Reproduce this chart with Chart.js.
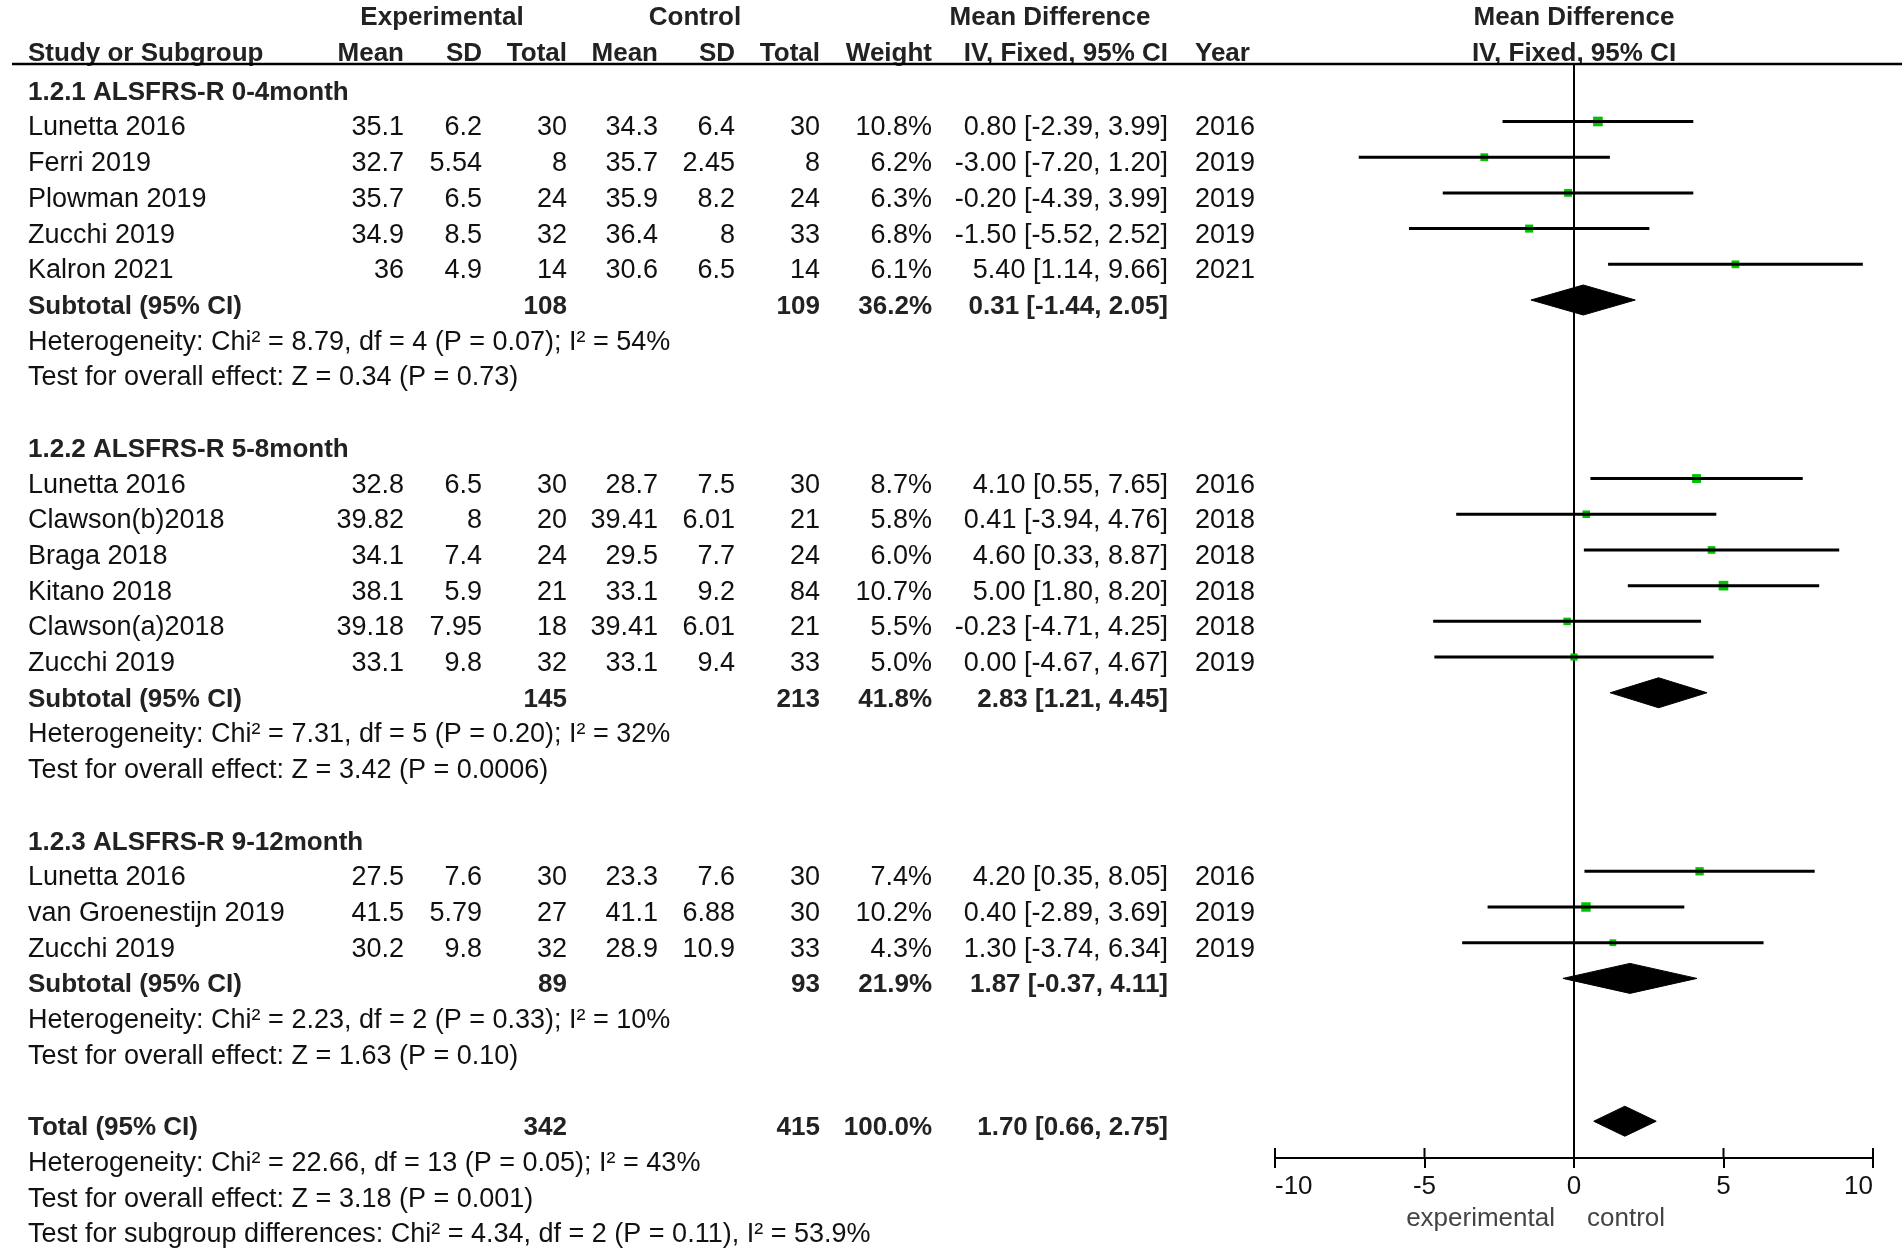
<!DOCTYPE html>
<html>
<head>
<meta charset="utf-8">
<title>Forest plot - ALSFRS-R</title>
<script src="https://cdn.jsdelivr.net/npm/chart.js@4.4.1/dist/chart.umd.min.js"></script>
<style>
  html, body { margin: 0; padding: 0; background: #fff; }
  canvas { display: block; }
</style>
</head>
<body>
<canvas id="forest" width="1902" height="1253"></canvas>
<script>
// ---- study data ----
const studyNames = ['Lunetta 2016', 'Ferri 2019', 'Plowman 2019', 'Zucchi 2019', 'Kalron 2021',
  'Lunetta 2016', 'Clawson(b)2018', 'Braga 2018', 'Kitano 2018', 'Clawson(a)2018', 'Zucchi 2019',
  'Lunetta 2016', 'van Groenestijn 2019', 'Zucchi 2019'];
const studyGroup = [0, 0, 0, 0, 0, 1, 1, 1, 1, 1, 1, 2, 2, 2];
const expMean = [35.1, 32.7, 35.7, 34.9, 36, 32.8, 39.82, 34.1, 38.1, 39.18, 33.1, 27.5, 41.5, 30.2];
const expSD = [6.2, 5.54, 6.5, 8.5, 4.9, 6.5, 8, 7.4, 5.9, 7.95, 9.8, 7.6, 5.79, 9.8];
const expTotal = [30, 8, 24, 32, 14, 30, 20, 24, 21, 18, 32, 30, 27, 32];
const ctlMean = [34.3, 35.7, 35.9, 36.4, 30.6, 28.7, 39.41, 29.5, 33.1, 39.41, 33.1, 23.3, 41.1, 28.9];
const ctlSD = [6.4, 2.45, 8.2, 8, 6.5, 7.5, 6.01, 7.7, 9.2, 6.01, 9.4, 7.6, 6.88, 10.9];
const ctlTotal = [30, 8, 24, 33, 14, 30, 21, 24, 84, 21, 33, 30, 30, 33];
const weight = [10.8, 6.2, 6.3, 6.8, 6.1, 8.7, 5.8, 6.0, 10.7, 5.5, 5.0, 7.4, 10.2, 4.3];
const md = [0.80, -3.00, -0.20, -1.50, 5.40, 4.10, 0.41, 4.60, 5.00, -0.23, 0.00, 4.20, 0.40, 1.30];
const ciLow = [-2.39, -7.20, -4.39, -5.52, 1.14, 0.55, -3.94, 0.33, 1.80, -4.71, -4.67, 0.35, -2.89, -3.74];
const ciHigh = [3.99, 1.20, 3.99, 2.52, 9.66, 7.65, 4.76, 8.87, 8.20, 4.25, 4.67, 8.05, 3.69, 6.34];
const studyYear = [2016, 2019, 2019, 2019, 2021, 2016, 2018, 2018, 2018, 2018, 2019, 2016, 2019, 2019];

// ---- subgroup data ----
const groupNames = ['1.2.1 ALSFRS-R 0-4month', '1.2.2 ALSFRS-R 5-8month', '1.2.3 ALSFRS-R 9-12month'];
const groupExpTotal = [108, 145, 89];
const groupCtlTotal = [109, 213, 93];
const groupWeight = [36.2, 41.8, 21.9];
const groupMd = [0.31, 2.83, 1.87];
const groupLow = [-1.44, 1.21, -0.37];
const groupHigh = [2.05, 4.45, 4.11];
const groupHet = ['Heterogeneity: Chi² = 8.79, df = 4 (P = 0.07); I² = 54%',
  'Heterogeneity: Chi² = 7.31, df = 5 (P = 0.20); I² = 32%',
  'Heterogeneity: Chi² = 2.23, df = 2 (P = 0.33); I² = 10%'];
const groupTest = ['Test for overall effect: Z = 0.34 (P = 0.73)',
  'Test for overall effect: Z = 3.42 (P = 0.0006)',
  'Test for overall effect: Z = 1.63 (P = 0.10)'];

// ---- overall ----
const totalExpTotal = 342;
const totalCtlTotal = 415;
const totalWeight = 100.0;
const totalMd = 1.70;
const totalLow = 0.66;
const totalHigh = 2.75;
const totalNotes = ['Heterogeneity: Chi² = 22.66, df = 13 (P = 0.05); I² = 43%',
  'Test for overall effect: Z = 3.18 (P = 0.001)',
  'Test for subgroup differences: Chi² = 4.34, df = 2 (P = 0.11), I² = 53.9%'];

// ---- axis ----
const xTicks = [-10, -5, 0, 5, 10];
const favourLabels = ['experimental', 'control'];

// ---- build the row layout (one row = one line of the table) ----
const rows = [];
groupNames.forEach((g, gi) => {
  rows.push({ kind: 'group', g: gi });
  studyNames.forEach((s, i) => { if (studyGroup[i] === gi) rows.push({ kind: 'study', i: i }); });
  rows.push({ kind: 'sub', g: gi });
  rows.push({ kind: 'note', text: groupHet[gi] });
  rows.push({ kind: 'note', text: groupTest[gi] });
  rows.push({ kind: 'blank' });
});
rows.push({ kind: 'total' });
totalNotes.forEach(t => rows.push({ kind: 'note', text: t }));

const rowOf = (kind, key) => rows.findIndex(r => r.kind === kind && (r.i === key || r.g === key || key === undefined));

const FONT = '"Liberation Sans", Arial, sans-serif';
const COL = { name: 28, expMean: 404, expSD: 482, expN: 567, ctlMean: 658, ctlSD: 735, ctlN: 820,
  weight: 932, ci: 1168, year: 1195 };
const DIAMOND_H = 0.42;

const ciText = (m, lo, hi) => m.toFixed(2) + ' [' + lo.toFixed(2) + ', ' + hi.toFixed(2) + ']';

// ---- datasets ----
const datasets = [];
// confidence interval whiskers
studyNames.forEach((s, i) => {
  const r = rowOf('study', i);
  datasets.push({
    data: [{ x: ciLow[i], y: r }, { x: ciHigh[i], y: r }],
    showLine: true, borderColor: '#000', borderWidth: 3, pointRadius: 0
  });
});
// study point estimates (square size follows weight)
datasets.push({
  data: studyNames.map((s, i) => ({ x: md[i], y: rowOf('study', i) })),
  pointStyle: 'rect',
  pointRadius: weight.map(w => (2.4 * Math.sqrt(w) + 1.8) / Math.SQRT2),
  backgroundColor: '#00c400', borderWidth: 0, showLine: false
});
// pooled diamonds
function diamond(m, lo, hi, r) {
  return {
    data: [{ x: lo, y: r }, { x: m, y: r - DIAMOND_H }, { x: hi, y: r }, { x: m, y: r + DIAMOND_H }, { x: lo, y: r }],
    showLine: true, fill: 'shape', backgroundColor: '#000', borderColor: '#000', borderWidth: 1,
    pointRadius: 0, tension: 0
  };
}
groupNames.forEach((g, gi) => datasets.push(diamond(groupMd[gi], groupLow[gi], groupHigh[gi], rowOf('sub', gi))));
datasets.push(diamond(totalMd, totalLow, totalHigh, rowOf('total')));

// ---- table text, header rule and extra axis marks ----
const tablePlugin = {
  id: 'forestTable',
  afterDraw(chart) {
    const ctx = chart.ctx;
    const ys = chart.scales.y;
    const xs = chart.scales.x;
    const base = r => ys.getPixelForValue(r) + 14;
    function txt(s, x, r, align, bold, color) {
      ctx.font = bold ? 'bold 26px ' + FONT : '27px ' + FONT;
      ctx.fillStyle = color || '#111';
      ctx.textAlign = align;
      ctx.fillText(s, x, base(r));
    }
    ctx.save();
    ctx.textBaseline = 'alphabetic';

    // column headers
    const h1 = -2.1, h2 = -1.1;
    txt('Experimental', 442, h1, 'center', true, '#222');
    txt('Control', 695, h1, 'center', true, '#222');
    txt('Mean Difference', 1050, h1, 'center', true, '#222');
    txt('Mean Difference', xs.getPixelForValue(0), h1, 'center', true, '#222');
    txt('Study or Subgroup', COL.name, h2, 'left', true, '#222');
    txt('Mean', COL.expMean, h2, 'right', true, '#222');
    txt('SD', COL.expSD, h2, 'right', true, '#222');
    txt('Total', COL.expN, h2, 'right', true, '#222');
    txt('Mean', COL.ctlMean, h2, 'right', true, '#222');
    txt('SD', COL.ctlSD, h2, 'right', true, '#222');
    txt('Total', COL.ctlN, h2, 'right', true, '#222');
    txt('Weight', COL.weight, h2, 'right', true, '#222');
    txt('IV, Fixed, 95% CI', COL.ci, h2, 'right', true, '#222');
    txt('Year', COL.year, h2, 'left', true, '#222');
    txt('IV, Fixed, 95% CI', xs.getPixelForValue(0), h2, 'center', true, '#222');

    // header rule
    ctx.strokeStyle = '#000';
    ctx.lineWidth = 2.5;
    ctx.beginPath();
    ctx.moveTo(12, chart.chartArea.top);
    ctx.lineTo(chart.width, chart.chartArea.top);
    ctx.stroke();

    rows.forEach((row, r) => {
      if (row.kind === 'group') {
        txt(groupNames[row.g], COL.name, r, 'left', true, '#222');
      } else if (row.kind === 'study') {
        const i = row.i;
        txt(studyNames[i], COL.name, r, 'left');
        txt(String(expMean[i]), COL.expMean, r, 'right');
        txt(String(expSD[i]), COL.expSD, r, 'right');
        txt(String(expTotal[i]), COL.expN, r, 'right');
        txt(String(ctlMean[i]), COL.ctlMean, r, 'right');
        txt(String(ctlSD[i]), COL.ctlSD, r, 'right');
        txt(String(ctlTotal[i]), COL.ctlN, r, 'right');
        txt(weight[i].toFixed(1) + '%', COL.weight, r, 'right');
        txt(ciText(md[i], ciLow[i], ciHigh[i]), COL.ci, r, 'right');
        txt(String(studyYear[i]), COL.year, r, 'left');
      } else if (row.kind === 'sub') {
        const g = row.g;
        txt('Subtotal (95% CI)', COL.name, r, 'left', true, '#222');
        txt(String(groupExpTotal[g]), COL.expN, r, 'right', true, '#222');
        txt(String(groupCtlTotal[g]), COL.ctlN, r, 'right', true, '#222');
        txt(groupWeight[g].toFixed(1) + '%', COL.weight, r, 'right', true, '#222');
        txt(ciText(groupMd[g], groupLow[g], groupHigh[g]), COL.ci, r, 'right', true, '#222');
      } else if (row.kind === 'total') {
        txt('Total (95% CI)', COL.name, r, 'left', true, '#222');
        txt(String(totalExpTotal), COL.expN, r, 'right', true, '#222');
        txt(String(totalCtlTotal), COL.ctlN, r, 'right', true, '#222');
        txt(totalWeight.toFixed(1) + '%', COL.weight, r, 'right', true, '#222');
        txt(ciText(totalMd, totalLow, totalHigh), COL.ci, r, 'right', true, '#222');
      } else if (row.kind === 'note') {
        txt(row.text, COL.name, r, 'left');
      }
    });

    // tick marks above the axis line
    const axisY = chart.chartArea.bottom;
    ctx.lineWidth = 2;
    xTicks.forEach(v => {
      const px = xs.getPixelForValue(v);
      ctx.beginPath();
      ctx.moveTo(px, axisY - 10);
      ctx.lineTo(px, axisY);
      ctx.stroke();
    });

    // favours labels
    ctx.font = '26px ' + FONT;
    ctx.fillStyle = '#444';
    const zero = xs.getPixelForValue(0);
    ctx.textAlign = 'right';
    ctx.fillText(favourLabels[0], zero - 19, 1226);
    ctx.textAlign = 'left';
    ctx.fillText(favourLabels[1], zero + 13, 1226);
    ctx.restore();
  }
};

new Chart(document.getElementById('forest'), {
  type: 'scatter',
  data: { datasets: datasets },
  options: {
    responsive: false,
    animation: false,
    devicePixelRatio: 1,
    layout: { padding: { left: 1275, right: 29, top: 64, bottom: 0 } },
    plugins: { legend: { display: false }, tooltip: { enabled: false } },
    scales: {
      x: {
        type: 'linear',
        min: -10, max: 10,
        afterBuildTicks: s => { s.ticks = xTicks.map(v => ({ value: v })); },
        afterFit: s => { s.height = 95; },
        ticks: { color: '#111', padding: 3, align: 'inner', font: { family: FONT, size: 26 } },
        grid: {
          color: c => (c.tick && c.tick.value === 0 ? '#000' : 'rgba(0,0,0,0)'),
          lineWidth: 2,
          drawTicks: true,
          tickLength: 10,
          tickColor: '#000',
          tickWidth: 2
        },
        border: { display: true, color: '#000', width: 2 }
      },
      y: {
        type: 'linear',
        reverse: true,
        min: -0.61, max: 30.03,
        display: false
      }
    }
  },
  plugins: [tablePlugin]
});
</script>
</body>
</html>
